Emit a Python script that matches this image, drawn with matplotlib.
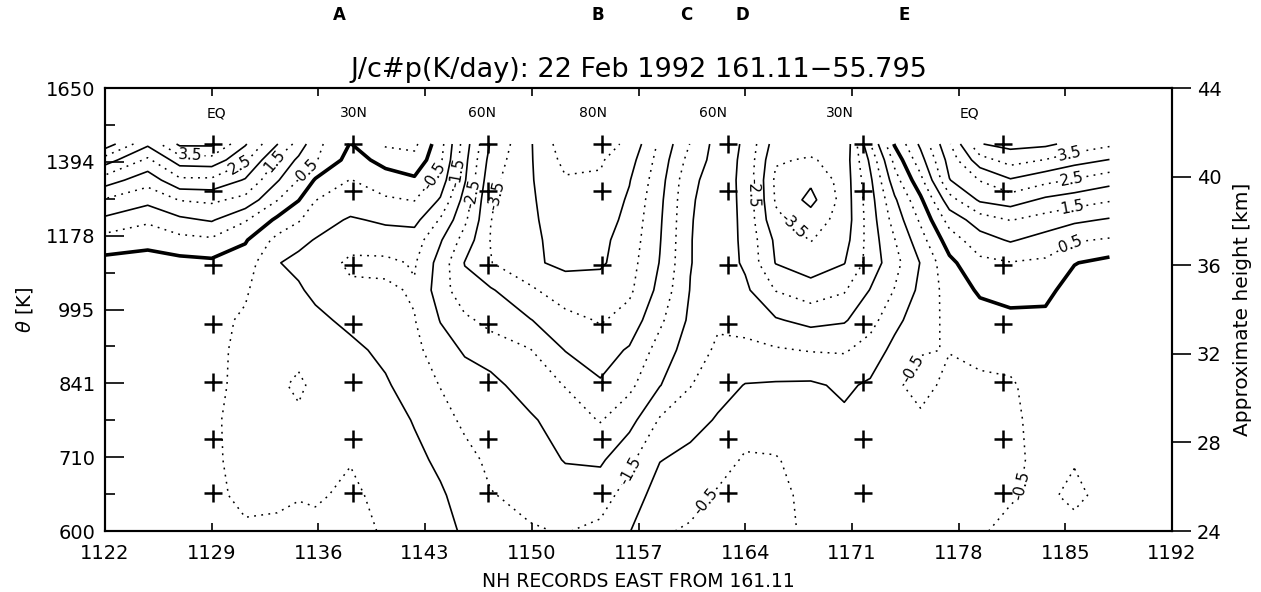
import numpy as np
import matplotlib
matplotlib.use("Agg")
import matplotlib.pyplot as plt
from matplotlib import transforms
from matplotlib.ticker import NullFormatter

plt.rcParams['font.family'] = ['DejaVu Sans']

#Records along the track (x) and theta levels of the grid (top -> bottom)
records = [1122.0, 1124.8, 1126.9, 1129.0, 1131.2, 1133.3, 1134.7, 1135.8, 1138.1, 1140.4,
           1142.3, 1144.0, 1145.6, 1147.3, 1149.9, 1152.2, 1154.5, 1156.4, 1158.4, 1160.4,
           1162.2, 1164.0, 1166.0, 1168.3, 1170.5, 1172.2, 1173.8, 1175.5, 1177.4, 1179.4,
           1181.4, 1183.7, 1185.6, 1187.9]
theta = [1452, 1400, 1337, 1278, 1221, 1166, 1107, 1040, 971, 907, 837, 773, 706, 651, 600]

#Heating rate J/cp in K/day, one row per theta level
heating = np.array([
    [4.3, 3.1, 4.1, 4.1, 3.05, 2.02, 1.3, 0.65, -0.02, 0.58, 0.62, -0.3, -1.75, -3.05, -3.95, -4.8, -4.7, -4.4, -3.4, -2.48, -1.8, -2.05, -3.25, -3.3, -3.45, -1.52, 0.05, 1.1, 2.45, 3.98, 4.15, 4.1, 3.85, 3.6],
    [3.25, 2.4, 3.25, 3.3, 2.6, 1.45, 0.9, 0.55, -0.2, 0.15, 0.35, -0.4, -1.85, -3.2, -3.95, -4.65, -4.55, -4.2, -3.3, -2.3, -1.8, -2.08, -3.45, -3.55, -3.3, -1.9, -0.35, 0.8, 2.2, 3.3, 3.7, 3.48, 3.2, 2.98],
    [2.25, 1.7, 2.4, 2.4, 1.95, 1.05, 0.48, -0.05, -0.52, -0.2, -0.08, -0.7, -1.95, -3.35, -3.95, -4.45, -4.45, -4.03, -3.2, -2.1, -1.8, -2.1, -3.6, -3.9, -3.3, -2.1, -0.72, 0.35, 1.98, 2.52, 2.95, 2.65, 2.45, 2.2],
    [1.45, 1.15, 1.52, 1.6, 1.35, 0.52, 0.02, -0.49, -0.75, -0.57, -0.48, -1.05, -2.2, -3.45, -3.93, -4.35, -4.35, -3.93, -3.12, -2.05, -1.78, -2.1, -3.55, -4.15, -3.3, -2.2, -1.08, -0.1, 1.3, 2.08, 2.25, 1.9, 1.75, 1.55],
    [0.9, 0.6, 0.9, 1.05, 0.55, -0.1, -0.45, -0.8, -1.05, -0.93, -0.85, -1.55, -2.4, -3.49, -3.92, -4.25, -4.25, -3.85, -3.07, -2.03, -1.75, -2.1, -3.4, -3.75, -3.3, -2.25, -1.3, -0.42, 0.7, 1.25, 1.52, 1.3, 1.1, 0.95],
    [0.3, 0.12, 0.35, 0.42, 0.05, -0.65, -0.9, -1.02, -1.3, -1.2, -1.25, -1.95, -2.7, -3.52, -3.92, -4.15, -4.12, -3.78, -3.03, -2.02, -1.72, -2.1, -3.1, -3.52, -3.2, -2.28, -1.52, -0.7, 0.25, 0.8, 1.05, 0.8, 0.55, 0.45],
    [-0.15, -0.15, -0.15, -0.1, -0.25, -0.98, -1.1, -1.2, -1.6, -1.62, -1.45, -2.2, -3.02, -3.48, -3.95, -4.07, -4.08, -3.7, -2.98, -2.02, -1.7, -2.08, -3.02, -3.28, -3.02, -2.3, -1.67, -0.98, -0.12, 0.38, 0.48, 0.42, 0.02, -0.15],
    [-0.25, -0.25, -0.25, -0.3, -0.45, -0.85, -0.95, -1.1, -1.4, -1.42, -1.55, -2.25, -2.85, -2.95, -3.4, -3.85, -3.75, -3.6, -2.85, -1.98, -1.65, -1.9, -2.52, -2.78, -2.55, -1.98, -1.48, -0.88, -0.3, 0.07, 0.15, 0.12, -0.2, -0.25],
    [-0.3, -0.3, -0.3, -0.4, -0.55, -0.75, -0.82, -0.9, -1.1, -1.2, -1.48, -2.02, -2.4, -2.65, -2.98, -3.3, -3.55, -3.3, -2.6, -1.9, -1.57, -1.65, -1.95, -2.15, -2.05, -1.68, -1.15, -0.7, -0.4, -0.2, -0.1, -0.1, -0.3, -0.3],
    [-0.3, -0.3, -0.32, -0.4, -0.6, -0.7, -0.75, -0.8, -0.9, -1.1, -1.35, -1.8, -2.05, -2.25, -2.48, -3.02, -3.2, -2.95, -2.3, -1.75, -1.42, -1.4, -1.45, -1.53, -1.55, -1.3, -0.85, -0.52, -0.49, -0.43, -0.35, -0.22, -0.35, -0.32],
    [-0.3, -0.3, -0.33, -0.4, -0.62, -0.65, -0.35, -0.7, -0.78, -0.95, -1.2, -1.52, -1.8, -1.85, -2.25, -2.52, -2.95, -2.62, -2.02, -1.52, -1.2, -0.98, -0.95, -0.93, -1.08, -0.93, -0.55, -0.4, -0.58, -0.55, -0.55, -0.3, -0.38, -0.33],
    [-0.3, -0.3, -0.35, -0.45, -0.62, -0.65, -0.65, -0.65, -0.65, -0.8, -1.03, -1.3, -1.6, -1.75, -1.93, -2.25, -2.53, -2.18, -1.45, -1.2, -0.95, -0.7, -0.72, -0.78, -0.92, -0.8, -0.7, -0.55, -0.6, -0.58, -0.58, -0.35, -0.42, -0.35],
    [-0.3, -0.3, -0.35, -0.45, -0.6, -0.6, -0.6, -0.6, -0.52, -0.7, -0.9, -1.08, -1.35, -1.6, -1.75, -2.03, -2.08, -1.62, -1.02, -0.85, -0.68, -0.45, -0.47, -0.68, -0.75, -0.72, -0.65, -0.58, -0.6, -0.57, -0.56, -0.42, -0.48, -0.38],
    [-0.3, -0.3, -0.35, -0.45, -0.55, -0.55, -0.52, -0.55, -0.42, -0.62, -0.85, -0.95, -1.15, -1.48, -1.6, -1.75, -1.7, -1.3, -0.75, -0.65, -0.45, -0.35, -0.38, -0.62, -0.7, -0.66, -0.6, -0.56, -0.58, -0.55, -0.52, -0.45, -0.56, -0.4],
    [-0.3, -0.3, -0.35, -0.4, -0.47, -0.45, -0.4, -0.4, -0.35, -0.55, -0.8, -0.88, -1.05, -1.38, -1.47, -1.52, -1.4, -1.02, -0.55, -0.45, -0.35, -0.3, -0.38, -0.58, -0.65, -0.62, -0.6, -0.55, -0.55, -0.52, -0.45, -0.4, -0.42, -0.38],
])

#Measurement points (+)
cross_x = [1129.1, 1138.3, 1147.1, 1154.6, 1162.9, 1171.7, 1180.9]
cross_theta = [1452, 1304, 1101, 963, 843, 740, 654]

#Latitude labels inside the frame
lat_names = ["EQ", "30N", "60N", "80N", "60N", "30N", "EQ"]
lat_x = [1129.3, 1138.3, 1146.7, 1154.0, 1161.9, 1170.2, 1178.7]

#Letters above the chart
events = ["A", "B", "C", "D", "E"]
event_x = [1137.4, 1154.3, 1160.1, 1163.8, 1174.4]

#Axis ticks
theta_ticks = [600, 710, 841, 995, 1178, 1394, 1650]
km_ticks = [24, 28, 32, 36, 40, 44]
x_ticks = list(range(1122, 1193, 7))

#Where the contour labels sit (x, theta)
label_spots = [(1127.6, 1416), (1130.7, 1400), (1133.3, 1390), (1135.3, 1368),
               (1143.5, 1353), (1145.1, 1359), (1146.0, 1298), (1147.7, 1292),
               (1164.3, 1298), (1167.1, 1201),
               (1185.3, 1419), (1185.4, 1343), (1185.5, 1249), (1185.3, 1158),
               (1156.4, 690), (1161.0, 648), (1174.2, 883), (1183.0, 663)]

half_levels = [-4.5, -3.5, -2.5, -1.5, -0.5, 0.5, 1.5, 2.5, 3.5]
whole_levels = [-4, -3, -2, -1, 1, 2, 3, 4]

fig = plt.figure(figsize=(12.61, 5.92), dpi=100)
ax = fig.add_axes([0.0833, 0.1030, 0.8461, 0.7483])

X, Y = np.meshgrid(records, theta)
dots = (0, (1.2, 3.5))
cs_half = ax.contour(X, Y, heating, levels=half_levels, colors="k", linewidths=1.1,
                     linestyles=[dots] * len(half_levels))
ax.contour(X, Y, heating, levels=whole_levels, colors="k", linewidths=1.2, linestyles="solid")
ax.contour(X, Y, heating, levels=[0], colors="k", linewidths=2.6, linestyles="solid")

ax.set_yscale("log")
ax.set_xlim(1122, 1192)
ax.set_ylim(600, 1650)

ax.clabel(cs_half, fmt=lambda v: f"{v:.1f}", manual=label_spots, inline=True,
          fontsize=11, inline_spacing=2)

#+ markers
for t in cross_theta:
    ax.plot(cross_x, [t] * len(cross_x), ls="none", marker="+", ms=13, mew=1.8, color="k", zorder=5)

for name, x in zip(lat_names, lat_x):
    ax.text(x, 1558, name, ha="center", va="center", fontsize=10)

#axes and ticks
ax.set_xticks(x_ticks)
ax.set_yticks(theta_ticks)
ax.set_yticklabels([str(t) for t in theta_ticks])
ticks_arr = np.array(theta_ticks, dtype=float)
ax.set_yticks(np.sqrt(ticks_arr[:-1] * ticks_arr[1:]), minor=True)
ax.yaxis.set_minor_formatter(NullFormatter())
ax.tick_params(axis="y", which="major", direction="in", length=14, width=1.2,
               left=True, right=True, labelsize=14, pad=7)
ax.tick_params(axis="y", which="minor", direction="in", length=7, width=1.2,
               left=True, right=True)
ax.tick_params(axis="x", which="major", direction="in", length=6, width=1.2,
               top=True, bottom=True, labelsize=14, pad=9)
ax.tick_params(axis="x", which="minor", bottom=False, top=False)
for sp in ax.spines.values():
    sp.set_linewidth(1.5)

ax.set_xlabel("NH RECORDS EAST FROM 161.11", fontsize=13.5, labelpad=7)
ax.set_ylabel(r"$\theta$ [K]", fontsize=14, labelpad=8)
ax.set_title("J/c#p(K/day): 22 Feb 1992 161.11\u221255.795", fontsize=19.5, pad=8)

#right axis in km
ax2 = ax.twinx()
ax2.set_ylim(24, 44)
ax2.set_yticks(km_ticks)
ax2.yaxis.set_minor_formatter(NullFormatter())
ax2.tick_params(axis="y", which="major", direction="out", length=14, width=1.2,
                labelsize=14, pad=4)
ax2.tick_params(axis="y", which="minor", right=False, left=False)
ax2.set_ylabel("Approximate height [km]", fontsize=14.5, labelpad=8)
for sp in ax2.spines.values():
    sp.set_linewidth(1.5)

#letters on top
trans = transforms.blended_transform_factory(ax.transData, fig.transFigure)
for name, x in zip(events, event_x):
    fig.text(x, 1 - 15 / 592, name, transform=trans, ha="center", va="center",
             fontsize=12, fontweight="bold")

fig.savefig("out.png", dpi=100)
